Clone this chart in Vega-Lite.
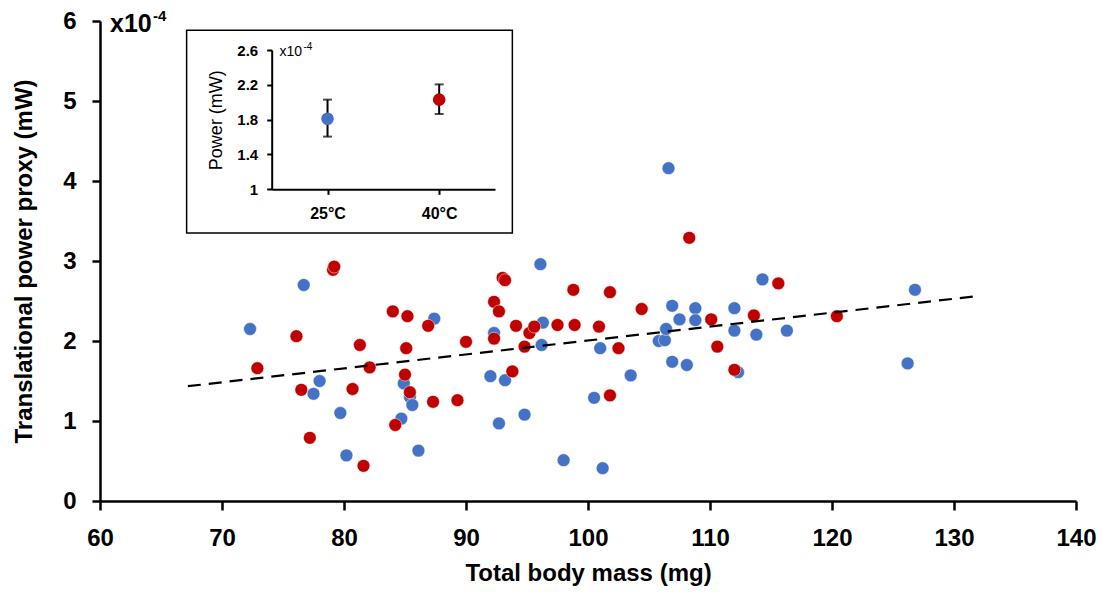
{
  "$schema": "https://vega.github.io/schema/vega-lite/v6.json",
  "width": 976,
  "height": 480,
  "autosize": {"type": "none"},
  "padding": {"left": 100, "top": 21, "right": 26, "bottom": 91},
  "background": "white",
  "config": {
    "view": {"stroke": null},
    "font": "Liberation Sans, Arial, sans-serif"
  },
  "datasets": {
    "pts": [
      {"temp": "25°C", "mass": 72.3, "power": 2.15},
      {"temp": "25°C", "mass": 76.7, "power": 2.70},
      {"temp": "25°C", "mass": 77.5, "power": 1.34},
      {"temp": "25°C", "mass": 78.0, "power": 1.50},
      {"temp": "25°C", "mass": 79.7, "power": 1.10},
      {"temp": "25°C", "mass": 80.2, "power": 0.57},
      {"temp": "25°C", "mass": 84.7, "power": 1.03},
      {"temp": "25°C", "mass": 84.9, "power": 1.47},
      {"temp": "25°C", "mass": 85.4, "power": 1.30},
      {"temp": "25°C", "mass": 85.6, "power": 1.20},
      {"temp": "25°C", "mass": 86.1, "power": 0.63},
      {"temp": "25°C", "mass": 87.4, "power": 2.28},
      {"temp": "25°C", "mass": 92.0, "power": 1.56},
      {"temp": "25°C", "mass": 92.3, "power": 2.10},
      {"temp": "25°C", "mass": 92.7, "power": 0.97},
      {"temp": "25°C", "mass": 93.2, "power": 1.51},
      {"temp": "25°C", "mass": 94.8, "power": 1.08},
      {"temp": "25°C", "mass": 96.1, "power": 2.96},
      {"temp": "25°C", "mass": 96.2, "power": 1.95},
      {"temp": "25°C", "mass": 96.3, "power": 2.23},
      {"temp": "25°C", "mass": 98.0, "power": 0.51},
      {"temp": "25°C", "mass": 100.5, "power": 1.29},
      {"temp": "25°C", "mass": 101.0, "power": 1.91},
      {"temp": "25°C", "mass": 101.2, "power": 0.41},
      {"temp": "25°C", "mass": 103.5, "power": 1.57},
      {"temp": "25°C", "mass": 105.8, "power": 2.00},
      {"temp": "25°C", "mass": 106.3, "power": 2.01},
      {"temp": "25°C", "mass": 106.4, "power": 2.15},
      {"temp": "25°C", "mass": 106.6, "power": 4.16},
      {"temp": "25°C", "mass": 106.9, "power": 2.44},
      {"temp": "25°C", "mass": 106.9, "power": 1.74},
      {"temp": "25°C", "mass": 107.5, "power": 2.27},
      {"temp": "25°C", "mass": 108.1, "power": 1.70},
      {"temp": "25°C", "mass": 108.8, "power": 2.41},
      {"temp": "25°C", "mass": 108.8, "power": 2.26},
      {"temp": "25°C", "mass": 112.0, "power": 2.41},
      {"temp": "25°C", "mass": 112.0, "power": 2.13},
      {"temp": "25°C", "mass": 112.3, "power": 1.61},
      {"temp": "25°C", "mass": 113.8, "power": 2.08},
      {"temp": "25°C", "mass": 114.3, "power": 2.77},
      {"temp": "25°C", "mass": 116.3, "power": 2.13},
      {"temp": "25°C", "mass": 126.2, "power": 1.72},
      {"temp": "25°C", "mass": 126.8, "power": 2.64},
      {"temp": "40°C", "mass": 72.9, "power": 1.66},
      {"temp": "40°C", "mass": 76.1, "power": 2.06},
      {"temp": "40°C", "mass": 76.5, "power": 1.39},
      {"temp": "40°C", "mass": 77.2, "power": 0.79},
      {"temp": "40°C", "mass": 79.1, "power": 2.89},
      {"temp": "40°C", "mass": 79.2, "power": 2.93},
      {"temp": "40°C", "mass": 80.7, "power": 1.40},
      {"temp": "40°C", "mass": 81.3, "power": 1.95},
      {"temp": "40°C", "mass": 81.6, "power": 0.44},
      {"temp": "40°C", "mass": 82.1, "power": 1.67},
      {"temp": "40°C", "mass": 84.0, "power": 2.37},
      {"temp": "40°C", "mass": 84.2, "power": 0.95},
      {"temp": "40°C", "mass": 85.0, "power": 1.58},
      {"temp": "40°C", "mass": 85.1, "power": 1.91},
      {"temp": "40°C", "mass": 85.2, "power": 2.31},
      {"temp": "40°C", "mass": 85.4, "power": 1.36},
      {"temp": "40°C", "mass": 86.9, "power": 2.19},
      {"temp": "40°C", "mass": 87.3, "power": 1.24},
      {"temp": "40°C", "mass": 89.3, "power": 1.26},
      {"temp": "40°C", "mass": 90.0, "power": 1.99},
      {"temp": "40°C", "mass": 92.3, "power": 2.49},
      {"temp": "40°C", "mass": 92.3, "power": 2.03},
      {"temp": "40°C", "mass": 92.7, "power": 2.37},
      {"temp": "40°C", "mass": 93.0, "power": 2.79},
      {"temp": "40°C", "mass": 93.2, "power": 2.76},
      {"temp": "40°C", "mass": 93.8, "power": 1.62},
      {"temp": "40°C", "mass": 94.1, "power": 2.19},
      {"temp": "40°C", "mass": 94.8, "power": 1.93},
      {"temp": "40°C", "mass": 95.2, "power": 2.10},
      {"temp": "40°C", "mass": 95.6, "power": 2.18},
      {"temp": "40°C", "mass": 97.5, "power": 2.20},
      {"temp": "40°C", "mass": 98.8, "power": 2.64},
      {"temp": "40°C", "mass": 98.9, "power": 2.20},
      {"temp": "40°C", "mass": 100.9, "power": 2.18},
      {"temp": "40°C", "mass": 101.8, "power": 2.61},
      {"temp": "40°C", "mass": 101.8, "power": 1.32},
      {"temp": "40°C", "mass": 102.5, "power": 1.91},
      {"temp": "40°C", "mass": 104.4, "power": 2.40},
      {"temp": "40°C", "mass": 108.3, "power": 3.29},
      {"temp": "40°C", "mass": 110.1, "power": 2.27},
      {"temp": "40°C", "mass": 110.6, "power": 1.93},
      {"temp": "40°C", "mass": 112.0, "power": 1.64},
      {"temp": "40°C", "mass": 113.6, "power": 2.32},
      {"temp": "40°C", "mass": 115.6, "power": 2.72},
      {"temp": "40°C", "mass": 120.4, "power": 2.31}
    ],
    "trend": [
      {"mass": 67.2, "power": 1.435},
      {"mass": 131.6, "power": 2.556}
    ],
    "inset": [
      {"temp": "25°C", "mean": 1.81, "lo": 1.605, "hi": 2.03},
      {"temp": "40°C", "mean": 2.03, "lo": 1.865, "hi": 2.205}
    ]
  },
  "layer": [
    {
      "layer": [
        {
          "data": {"name": "pts"},
          "mark": {"type": "circle", "size": 165, "opacity": 1, "stroke": "white", "strokeWidth": 0.5},
          "encoding": {
            "x": {
              "field": "mass", "type": "quantitative",
              "scale": {"domain": [60, 140], "nice": false, "zero": false},
              "axis": {
                "values": [60, 70, 80, 90, 100, 110, 120, 130, 140], "format": "d",
                "title": "Total body mass (mg)",
                "grid": false, "labelFlush": false, "labelOverlap": false,
                "domainColor": "black", "domainWidth": 2.5,
                "tickColor": "black", "tickWidth": 2.5, "tickSize": 9,
                "labelFontSize": 24, "labelFontWeight": "bold", "labelColor": "black", "labelPadding": 16,
                "titleFontSize": 24, "titleFontWeight": "bold", "titleColor": "black", "titlePadding": 11
              }
            },
            "y": {
              "field": "power", "type": "quantitative",
              "scale": {"domain": [0, 6], "nice": false},
              "axis": {
                "values": [0, 1, 2, 3, 4, 5, 6], "format": "d",
                "title": "Translational power proxy (mW)",
                "grid": false, "labelOverlap": false,
                "domainColor": "black", "domainWidth": 2.5,
                "tickColor": "black", "tickWidth": 2.5, "tickSize": 8,
                "labelFontSize": 24, "labelFontWeight": "bold", "labelColor": "black", "labelPadding": 16,
                "titleFontSize": 24, "titleFontWeight": "bold", "titleColor": "black", "titlePadding": 26
              }
            },
            "color": {
              "field": "temp", "type": "nominal",
              "scale": {"domain": ["25°C", "40°C"], "range": ["#4472C4", "#C00000"]},
              "legend": null
            }
          }
        },
        {
          "data": {"name": "trend"},
          "mark": {"type": "line", "color": "black", "strokeDash": [13, 8], "strokeWidth": 2.2},
          "encoding": {
            "x": {"field": "mass", "type": "quantitative"},
            "y": {"field": "power", "type": "quantitative"}
          }
        },
        {
          "data": {"values": [{}]},
          "mark": {"type": "rect", "fillOpacity": 0, "stroke": "black", "strokeWidth": 1.5},
          "encoding": {
            "x": {"datum": 67.1, "type": "quantitative"},
            "x2": {"datum": 93.8},
            "y": {"datum": 3.35, "type": "quantitative"},
            "y2": {"datum": 5.885}
          }
        },
        {
          "data": {"values": [{}]},
          "mark": {"type": "text", "text": "x10", "align": "left", "baseline": "alphabetic", "dx": 10, "dy": 11, "fontSize": 25, "fontWeight": "bold", "color": "black"},
          "encoding": {
            "x": {"datum": 60, "type": "quantitative"},
            "y": {"datum": 6, "type": "quantitative"}
          }
        },
        {
          "data": {"values": [{}]},
          "mark": {"type": "text", "text": "-4", "align": "left", "baseline": "alphabetic", "dx": 53, "dy": 0, "fontSize": 15, "fontWeight": "bold", "color": "black"},
          "encoding": {
            "x": {"datum": 60, "type": "quantitative"},
            "y": {"datum": 6, "type": "quantitative"}
          }
        }
      ]
    },
    {
      "data": {"name": "inset"},
      "encoding": {
        "x": {
          "field": "temp", "type": "nominal",
          "scale": {"type": "point", "domain": ["25°C", "40°C"], "range": [171.7, 395], "padding": 0.5},
          "axis": {
            "orient": "bottom", "offset": -311.7, "title": null, "labelAngle": 0, "zindex": 1,
            "domainColor": "black", "domainWidth": 2,
            "tickColor": "black", "tickWidth": 2, "tickSize": 5,
            "labelFontSize": 16, "labelFontWeight": "bold", "labelColor": "black", "labelPadding": 11
          }
        }
      },
      "layer": [
        {
          "mark": {"type": "rule", "color": "black", "strokeWidth": 2},
          "encoding": {
            "y": {
              "field": "lo", "type": "quantitative",
              "scale": {"domain": [1, 2.6], "range": [168.3, 29], "nice": false, "zero": false},
              "axis": {
                "orient": "left", "offset": -171.7, "zindex": 1,
                "values": [1, 1.4, 1.8, 2.2, 2.6], "format": ".1~f",
                "title": "Power (mW)", "grid": false,
                "domainColor": "black", "domainWidth": 2,
                "tickColor": "black", "tickWidth": 2, "tickSize": 5,
                "labelFontSize": 15, "labelFontWeight": "bold", "labelColor": "black", "labelPadding": 9,
                "titleFontSize": 18, "titleFontWeight": "normal", "titleColor": "black", "titlePadding": 11
              }
            },
            "y2": {"field": "hi"}
          }
        },
        {
          "mark": {"type": "tick", "color": "black", "thickness": 2, "size": 9},
          "encoding": {"y": {"field": "lo", "type": "quantitative"}}
        },
        {
          "mark": {"type": "tick", "color": "black", "thickness": 2, "size": 9},
          "encoding": {"y": {"field": "hi", "type": "quantitative"}}
        },
        {
          "mark": {"type": "circle", "size": 160, "opacity": 1},
          "encoding": {
            "y": {"field": "mean", "type": "quantitative"},
            "color": {
              "field": "temp", "type": "nominal",
              "scale": {"domain": ["25°C", "40°C"], "range": ["#4472C4", "#C00000"]},
              "legend": null
            }
          }
        },
        {
          "data": {"values": [{}]},
          "mark": {"type": "text", "text": "x10", "align": "left", "baseline": "alphabetic", "dx": -48, "dy": 6, "fontSize": 14, "color": "black"},
          "encoding": {
            "x": {"datum": "25°C", "type": "nominal"},
            "y": {"datum": 2.6, "type": "quantitative"}
          }
        },
        {
          "data": {"values": [{}]},
          "mark": {"type": "text", "text": "-4", "align": "left", "baseline": "alphabetic", "dx": -24, "dy": 0, "fontSize": 10, "color": "black"},
          "encoding": {
            "x": {"datum": "25°C", "type": "nominal"},
            "y": {"datum": 2.6, "type": "quantitative"}
          }
        }
      ]
    }
  ],
  "resolve": {
    "scale": {"x": "independent", "y": "independent"},
    "axis": {"x": "independent", "y": "independent"}
  }
}
